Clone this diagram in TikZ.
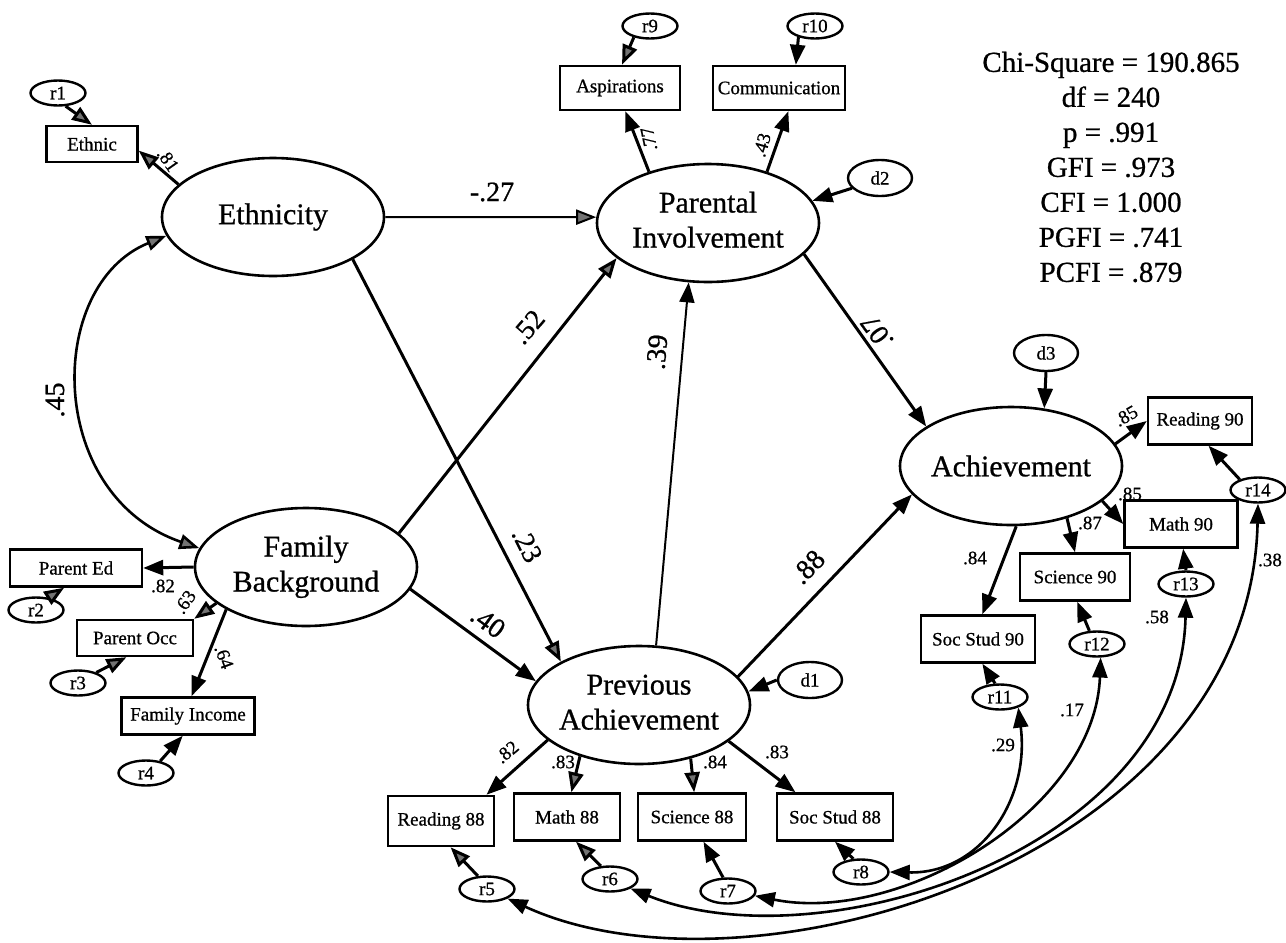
\documentclass[tikz,border=0pt]{standalone}
\usepackage{fontspec}
\setmainfont{Liberation Serif}[FakeBold=0.8]
\usetikzlibrary{shapes.geometric,arrows.meta}
\newcommand{\twol}[2]{\makebox[0pt]{\begin{tabular}{@{}c@{}}#1\\#2\end{tabular}}}
\tikzset{
  lat/.style={ellipse, draw, line width=2.6pt, minimum width=222pt, minimum height=118pt, inner sep=0pt, font=\fontsize{30}{35}\selectfont},
  res/.style={ellipse, draw, line width=2.4pt, minimum width=55pt, minimum height=25pt, inner sep=0pt, font=\fontsize{19}{22}\selectfont},
  dis/.style={ellipse, draw, line width=2.4pt, minimum width=64pt, minimum height=36pt, inner sep=0pt, font=\fontsize{19}{22}\selectfont},
  obs/.style={rectangle, draw, line width=2.4pt, inner sep=0pt, font=\fontsize{19}{22}\selectfont},
  conn/.style={line width=3pt, -{Triangle[length=20pt,width=15pt]}},
  connH/.style={line width=3pt, -{Triangle[length=20pt,width=15pt,fill=black!55]}},
  thinline/.style={line width=2pt},
  cov/.style={line width=2.6pt, {Triangle[length=20pt,width=15pt]}-{Triangle[length=20pt,width=15pt]}},
  covH/.style={line width=2.6pt, {Triangle[length=20pt,width=15pt,fill=black!55]}-{Triangle[length=20pt,width=15pt,fill=black!55]}},
  lab/.style={font=\fontsize{19}{22}\selectfont, inner sep=0pt},
  blab/.style={font=\fontsize{28}{30}\selectfont, inner sep=0pt},
}
\begin{document}
\begin{tikzpicture}[x=1pt,y=-1pt]
\useasboundingbox (0,0) rectangle (1286,943);
% latent variables
\node[lat] (eth) at (273,217) {\makebox[0pt]{Ethnicity}};
\node[lat] (pi) at (708,223) {\twol{Parental}{Involvement}};
\node[lat] (fb) at (306,567) {\twol{Family}{Background}};
\node[lat] (pa) at (639,705) {\twol{Previous}{Achievement}};
\node[lat] (ach) at (1011,466) {\makebox[0pt]{Achievement}};
% observed variables
\node[obs, minimum width=91pt, minimum height=36pt] (ethnic) at (92,144) {Ethnic};
\node[obs, minimum width=120pt, minimum height=44pt] (aspir) at (620,88) {Aspirations};
\node[obs, minimum width=132pt, minimum height=44pt] (comm) at (779,88) {Communication};
\node[obs, minimum width=132pt, minimum height=37pt] (parented) at (76,568) {Parent Ed};
\node[obs, minimum width=116pt, minimum height=36pt] (parentocc) at (135,638) {Parent Occ};
\node[obs, minimum width=133pt, minimum height=37pt] (faminc) at (188,716) {Family Income};
\node[obs, minimum width=106pt, minimum height=50pt] (read88) at (441,821) {Reading 88};
\node[obs, minimum width=106pt, minimum height=47pt] (math88) at (567,817) {Math 88};
\node[obs, minimum width=108pt, minimum height=47pt] (sci88) at (692,817) {Science 88};
\node[obs, minimum width=116pt, minimum height=47pt] (soc88) at (835,817) {Soc Stud 88};
\node[obs, minimum width=104pt, minimum height=47pt] (read90) at (1200,421) {Reading 90};
\node[obs, minimum width=113pt, minimum height=47pt] (math90) at (1181,524) {Math 90};
\node[obs, minimum width=110pt, minimum height=47pt] (sci90) at (1075,577) {Science 90};
\node[obs, minimum width=114pt, minimum height=47pt] (soc90) at (978,639) {Soc Stud 90};
% residuals and disturbances
\node[res] (r1) at (58,93) {r1};
\node[res] (r2) at (36,610) {r2};
\node[res] (r3) at (78,683) {r3};
\node[res] (r4) at (146,773) {r4};
\node[res] (r5) at (487,889) {r5};
\node[res] (r6) at (610,879) {r6};
\node[res] (r7) at (728,891) {r7};
\node[res] (r8) at (861,872) {r8};
\node[res] (r9) at (650,26) {r9};
\node[res] (r10) at (815,26) {r10};
\node[res] (r11) at (1000,697) {r11};
\node[res] (r12) at (1097,644) {r12};
\node[res] (r13) at (1186,584) {r13};
\node[res] (r14) at (1258,490) {r14};
\node[dis] (d1) at (810,680) {d1};
\node[dis] (d2) at (880,178) {d2};
\node[dis] (d3) at (1046,353) {d3};
% fit statistics
\node[font=\fontsize{29}{35}\selectfont, align=center, inner sep=0pt] (fit) at (1111,167)
  {Chi-Square = 190.865\\df = 240\\p = .991\\GFI = .973\\CFI = 1.000\\PGFI = .741\\PCFI = .879};
% measurement paths
\draw[connH] (r1.-60) -- (ethnic.north);
\draw[connH] (eth.161) -- (ethnic.-8);
\draw[covH] (fb.170) .. controls (45,495) and (45,285) .. (eth.190);
\draw[connH] (r2.45) -- (parented.-121);
\draw[conn] (fb.west) -- (parented.east);
\draw[connH] (fb.202) -- (parentocc.north east);
\draw[conn] (fb.208) -- (faminc.80);
\draw[connH] (r3.30) -- (parentocc.-114);
\draw[conn] (r4.40) -- (faminc.-105);
\draw[connH] (r9.215) -- (aspir.85);
\draw[conn] (r10.214) -- (comm.54);
\draw[conn] (pi.139) -- (aspir.-77);
\draw[conn] (pi.41) -- (comm.-68);
% structural paths
\draw[connH, thinline] (eth.east) -- (pi.177);
\draw[connH] (fb.20) -- (pi.201);
\draw[conn, thinline] (pa.74) -- (pi.252);
\draw[connH] (eth.-28) -- (pa.151);
\draw[conn] (fb.-12) -- (pa.167);
\draw[conn] (pi.-18) -- (ach.155);
\draw[conn] (pa.16) -- (ach.196);
\draw[conn] (d1.west) -- (pa.7);
\draw[conn] (d2.200) -- (pi.12);
\draw[conn] (d3.south) -- (ach.60);
\draw[conn] (ach.12) -- (read90.west);
\draw[conn] (ach.-21) -- (math90.west);
\draw[conn] (ach.-43) -- (sci90.north);
\draw[conn] (ach.-85) -- (soc90.80);
\draw[conn] (r11.110) -- (soc90.-80);
\draw[conn] (r12.120) -- (sci90.-85);
\draw[conn] (r13.north) -- (math90.-85);
\draw[conn] (r14.150) -- (read90.-71);
\draw[conn] (pa.201) -- (read88.30);
\draw[connH] (pa.221) -- (math88.80);
\draw[connH] (pa.-46) -- (sci88.85);
\draw[conn] (pa.-22) -- (soc88.148);
\draw[connH] (r5.125) -- (read88.-70);
\draw[connH] (r6.125) -- (math88.-70);
\draw[conn] (r7.110) -- (sci88.-65);
\draw[conn] (r8.120) -- (soc88.south);
% correlated residuals
\draw[cov] (r8.east) .. controls (980,874) and (1030,800) .. (r11.-30);
\draw[cov] (r7.-10) .. controls (900,925) and (1095,810) .. (r12.-75);
\draw[cov] (r6.-25) .. controls (820,965) and (1180,850) .. (r13.south);
\draw[cov] (r5.-25) .. controls (750,1010) and (1250,860) .. (r14.south);
% labels
\node[lab, rotate=-55] (l81) at (168,160) {.81};
\node[blab, rotate=90] (l45) at (55,400) {.45};
\node[lab] (l82a) at (163,586) {.82};
\node[lab, rotate=55] (l63) at (185,602) {.63};
\node[lab, rotate=-70] (l64) at (224,657) {.64};
\node[blab] (l27) at (492,192) {-.27};
\node[blab, rotate=49] (l52) at (528,327) {.52};
\node[blab, rotate=85] (l39) at (657,352) {.39};
\node[blab, rotate=-63] (l23) at (527,545) {.23};
\node[blab, rotate=-36] (l40) at (488,622) {.40};
\node[blab, rotate=126] (l07) at (877,332) {.07};
\node[blab, rotate=46] (l88) at (808,567) {.88};
\node[lab, rotate=102] (l77) at (649,139) {.77};
\node[lab, rotate=74] (l43) at (762,145) {.43};
\node[lab, rotate=30] (l85a) at (1126,416) {.85};
\node[lab] (l85b) at (1130,494) {.85};
\node[lab] (l87) at (1090,523) {.87};
\node[lab] (l84a) at (975,558) {.84};
\node[lab, rotate=40] (l82b) at (507,752) {.82};
\node[lab] (l83a) at (563,762) {.83};
\node[lab] (l84b) at (715,762) {.84};
\node[lab] (l83b) at (777,752) {.83};
\node[lab] (l29) at (1003,745) {.29};
\node[lab] (l17) at (1072,710) {.17};
\node[lab] (l58) at (1157,617) {.58};
\node[lab] (l38) at (1270,560) {.38};
\end{tikzpicture}
\end{document}
